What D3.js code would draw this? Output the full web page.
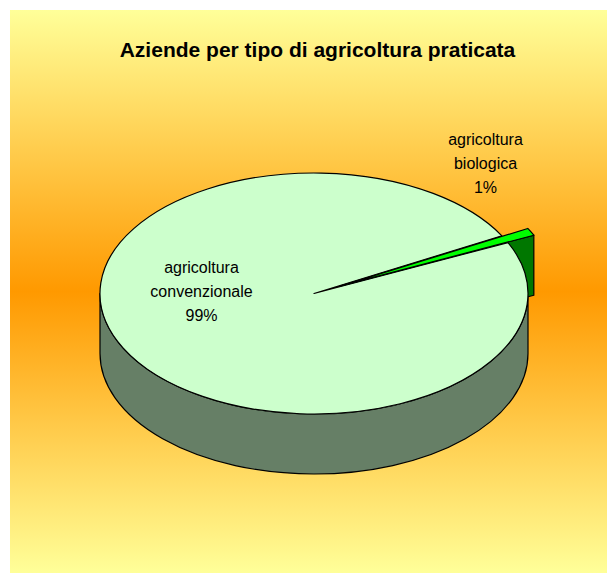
<!DOCTYPE html>
<html lang="it">
<head>
  <meta charset="UTF-8">
  <title>Aziende per tipo di agricoltura praticata</title>
  <style>
    body { margin: 0; background: #fff; }
    text { font-family: "Liberation Sans", Arial, sans-serif; fill: #000; }
  </style>
</head>
<body>
  <svg id="svg" width="607" height="573"></svg>
  <script src="https://cdn.jsdelivr.net/npm/d3@7"></script>
  <script>
    // data
    const categories = ['agricoltura convenzionale', 'agricoltura biologica']
    const values = [99, 1]
    const labelLines = [['agricoltura', 'convenzionale'], ['agricoltura', 'biologica']]
    const topColors = ['#ccffcc', '#00ff00']
    const sideColors = ['#667f66', '#007700']
    const explode = [0, 29]

    // layout of the 3d pie
    const cx = 314, cy = 293.5
    const rx = 214, ry = 120.5
    const depth = 60
    const labelPos = [[201.5, 273], [485.5, 145]]
    const lineH = 24

    const svg = d3.select('#svg')

    // background gradient yellow -> orange -> yellow
    const grad = svg.append('defs').append('linearGradient')
      .attr('id', 'bg').attr('x1', 0).attr('y1', 0).attr('x2', 0).attr('y2', 1)
    grad.append('stop').attr('offset', '0%').attr('stop-color', '#ffff99')
    grad.append('stop').attr('offset', '50%').attr('stop-color', '#ff9900')
    grad.append('stop').attr('offset', '100%').attr('stop-color', '#ffff99')

    svg.append('rect')
      .attr('x', 10).attr('y', 10)
      .attr('width', 597).attr('height', 563)
      .attr('fill', 'url(#bg)')

    svg.append('text')
      .attr('x', 317.5).attr('y', 57)
      .attr('text-anchor', 'middle')
      .attr('font-size', 21)
      .attr('font-weight', 'bold')
      .text('Aziende per tipo di agricoltura praticata')

    const deg = Math.PI / 180
    const pie = d3.pie().sort(null)
      .startAngle(65 * deg)
      .endAngle(425 * deg)
    const arcs = pie(values)

    // point on the ellipse for a d3 angle (clockwise from 12 o'clock)
    const pt = (a, dx, dy, h) => [cx + dx + rx * Math.sin(a), cy + dy - ry * Math.cos(a) + (h || 0)]
    const offset = (d, i) => {
      const mid = (d.startAngle + d.endAngle) / 2
      return [explode[i] * Math.sin(mid), -explode[i] * Math.cos(mid) * ry / rx]
    }

    function topPath(d, i) {
      const [ox, oy] = offset(d, i)
      const p0 = pt(d.startAngle, ox, oy)
      const p1 = pt(d.endAngle, ox, oy)
      const large = d.endAngle - d.startAngle > Math.PI ? 1 : 0
      return `M${cx + ox},${cy + oy}L${p0}A${rx},${ry} 0 ${large} 1 ${p1}Z`
    }

    // outer wall, only the front half (90deg..270deg) is visible
    function wallPath(d, i) {
      const [ox, oy] = offset(d, i)
      const a0 = Math.max(d.startAngle, 90 * deg, d.startAngle)
      const a1 = Math.min(d.endAngle, 270 * deg)
      if (a1 <= a0) return null
      return `M${pt(a0, ox, oy)}A${rx},${ry} 0 0 1 ${pt(a1, ox, oy)}` +
        `L${pt(a1, ox, oy, depth)}A${rx},${ry} 0 0 0 ${pt(a0, ox, oy, depth)}Z`
    }

    // radial face at the end angle (faces the viewer here)
    function facePath(d, i) {
      const [ox, oy] = offset(d, i)
      const p = pt(d.endAngle, ox, oy)
      const q = pt(d.endAngle, ox, oy, depth)
      return `M${cx + ox},${cy + oy}L${p}L${q}L${cx + ox},${cy + oy + depth}Z`
    }

    const g = svg.append('g')
      .attr('stroke', '#000')
      .attr('stroke-width', 1.2)
      .attr('stroke-linejoin', 'round')

    // big slice wall
    g.append('path').attr('d', wallPath(arcs[0], 0)).attr('fill', sideColors[0])
    // small slice side face
    g.append('path').attr('d', facePath(arcs[1], 1)).attr('fill', sideColors[1])
    // tops
    g.append('path').attr('d', topPath(arcs[0], 0)).attr('fill', topColors[0])
    g.append('path').attr('d', topPath(arcs[1], 1)).attr('fill', topColors[1])

    // labels
    const total = d3.sum(values)
    const fmt = d3.format('.0%')
    categories.forEach((c, i) => {
      const lines = labelLines[i].concat([fmt(values[i] / total)])
      const t = svg.append('text')
        .attr('text-anchor', 'middle')
        .attr('font-size', 16)
      lines.forEach((s, j) => {
        t.append('tspan')
          .attr('x', labelPos[i][0])
          .attr('y', labelPos[i][1] + j * lineH)
          .text(s)
      })
    })
  </script>
</body>
</html>
